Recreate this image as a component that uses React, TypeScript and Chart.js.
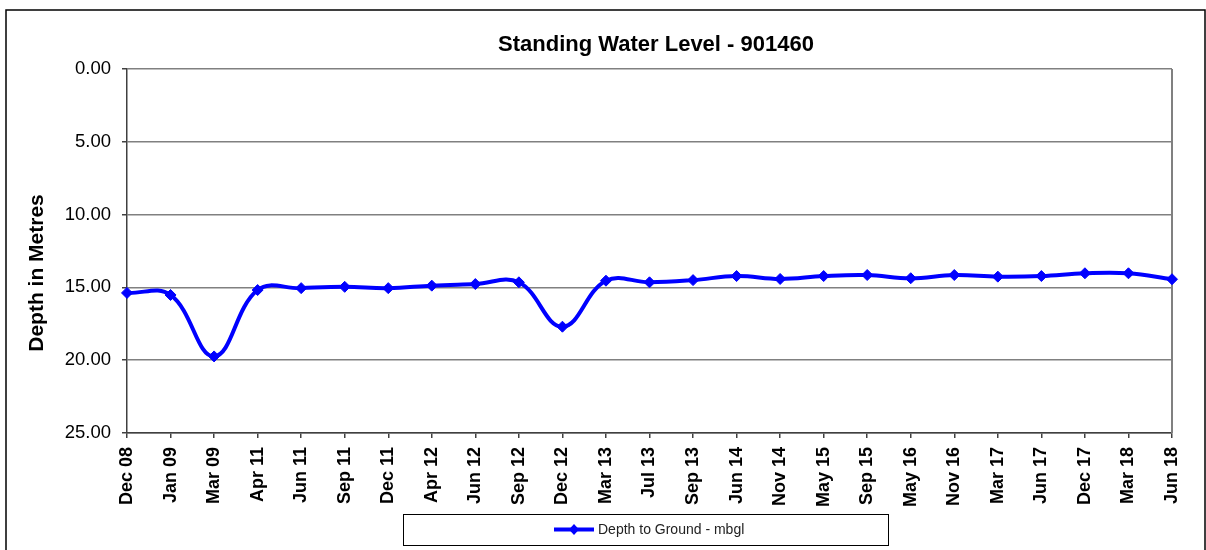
import { useEffect, useRef } from 'react';
import { Chart, registerables } from 'chart.js';

Chart.register(...registerables);

const categories = [
  'Dec 08', 'Jan 09', 'Mar 09', 'Apr 11', 'Jun 11', 'Sep 11', 'Dec 11', 'Apr 12', 'Jun 12',
  'Sep 12', 'Dec 12', 'Mar 13', 'Jul 13', 'Sep 13', 'Jun 14', 'Nov 14', 'May 15', 'Sep 15',
  'May 16', 'Nov 16', 'Mar 17', 'Jun 17', 'Dec 17', 'Mar 18', 'Jun 18',
];
const depthValues = [
  15.38, 15.52, 19.74, 15.18, 15.05, 14.96, 15.05, 14.88, 14.77,
  14.65, 17.70, 14.54, 14.65, 14.50, 14.22, 14.42, 14.22, 14.15,
  14.37, 14.15, 14.26, 14.22, 14.03, 14.03, 14.44,
];
const yMin = 0;
const yMax = 25;
const yStep = 5;
const chartTitle = 'Standing Water Level - 901460';
const yAxisTitle = 'Depth in Metres';
const seriesLabel = 'Depth to Ground - mbgl';

const FONT = 'Arial, "Liberation Sans", sans-serif';

const decorations = {
  id: 'decorations',
  beforeDatasetsDraw(chart: any) {
    const { ctx, chartArea } = chart;
    ctx.save();
    ctx.strokeStyle = '#808080';
    ctx.lineWidth = 2;
    ctx.beginPath();
    ctx.moveTo(chartArea.right, chartArea.top);
    ctx.lineTo(chartArea.right, chartArea.bottom);
    ctx.stroke();
    ctx.restore();
  },
  afterDraw(chart: any) {
    const { ctx } = chart;
    ctx.save();
    // outer frame
    ctx.strokeStyle = '#000000';
    ctx.lineWidth = 1.5;
    ctx.strokeRect(6, 10, 1199, 560);

    // title
    ctx.fillStyle = '#000000';
    ctx.font = `bold 22px ${FONT}`;
    ctx.textAlign = 'center';
    ctx.textBaseline = 'middle';
    ctx.fillText(chartTitle, 656, 45);

    // y axis title
    ctx.save();
    ctx.translate(37, 273);
    ctx.rotate(-Math.PI / 2);
    ctx.font = `bold 21px ${FONT}`;
    ctx.fillText(yAxisTitle, 0, 0);
    ctx.restore();

    // legend
    ctx.strokeStyle = '#000000';
    ctx.lineWidth = 1;
    ctx.strokeRect(403.5, 514.5, 485, 31);
    const ds = chart.data.datasets[0];
    ctx.strokeStyle = ds.borderColor;
    ctx.lineWidth = 4;
    ctx.beginPath();
    ctx.moveTo(554, 529.5);
    ctx.lineTo(594, 529.5);
    ctx.stroke();
    ctx.fillStyle = ds.borderColor;
    ctx.beginPath();
    ctx.moveTo(574, 524);
    ctx.lineTo(579, 529.5);
    ctx.lineTo(574, 535);
    ctx.lineTo(569, 529.5);
    ctx.closePath();
    ctx.fill();
    ctx.fillStyle = '#222222';
    ctx.font = `14px ${FONT}`;
    ctx.textAlign = 'left';
    ctx.fillText(ds.label, 598, 530);
    ctx.restore();
  },
};

export default function App() {
  const canvasRef = useRef<HTMLCanvasElement | null>(null);

  useEffect(() => {
    const canvas = canvasRef.current;
    if (!canvas) return;
    const chart = new Chart(canvas, {
      type: 'line',
      data: {
        labels: categories,
        datasets: [
          {
            label: seriesLabel,
            data: depthValues,
            borderColor: '#0000FF',
            backgroundColor: '#0000FF',
            borderWidth: 4,
            tension: 0.4,
            pointStyle: 'rectRot',
            pointRadius: 5.5,
            pointBorderWidth: 1,
            pointBackgroundColor: '#0000FF',
            pointBorderColor: '#0000FF',
            clip: false,
          } as any,
        ],
      },
      options: {
        responsive: false,
        animation: false,
        layout: { padding: { top: 69, right: 34, left: 0, bottom: 0 } },
        plugins: {
          legend: { display: false },
          title: { display: false },
          tooltip: { enabled: false },
        },
        scales: {
          x: {
            offset: false,
            afterFit: (scale: any) => {
              scale.height = 117;
            },
            ticks: {
              autoSkip: false,
              maxRotation: 90,
              minRotation: 90,
              padding: 9,
              color: '#000000',
              font: { family: FONT, size: 18, weight: 'bold' },
            },
            grid: {
              drawOnChartArea: false,
              drawTicks: true,
              tickLength: 5,
              tickColor: '#404040',
              lineWidth: 1.5,
            },
            border: { display: true, color: '#404040', width: 1.5 },
          },
          y: {
            reverse: true,
            min: yMin,
            max: yMax,
            afterFit: (scale: any) => {
              scale.width = 127;
            },
            ticks: {
              stepSize: yStep,
              padding: 11,
              color: '#000000',
              font: { family: FONT, size: 18.5 },
              callback: (v: any) => Number(v).toFixed(2),
            },
            grid: {
              color: '#808080',
              lineWidth: 1.5,
              drawTicks: true,
              tickLength: 5,
              tickColor: '#404040',
            },
            border: { display: true, color: '#404040', width: 1.5 },
          },
        },
      },
      plugins: [decorations],
    });
    return () => chart.destroy();
  }, []);

  return (
    <div style={{ position: 'absolute', left: 0, top: 0, width: 1206, height: 550, background: '#ffffff' }}>
      <canvas ref={canvasRef} width={1206} height={550} style={{ display: 'block' }} />
    </div>
  );
}
